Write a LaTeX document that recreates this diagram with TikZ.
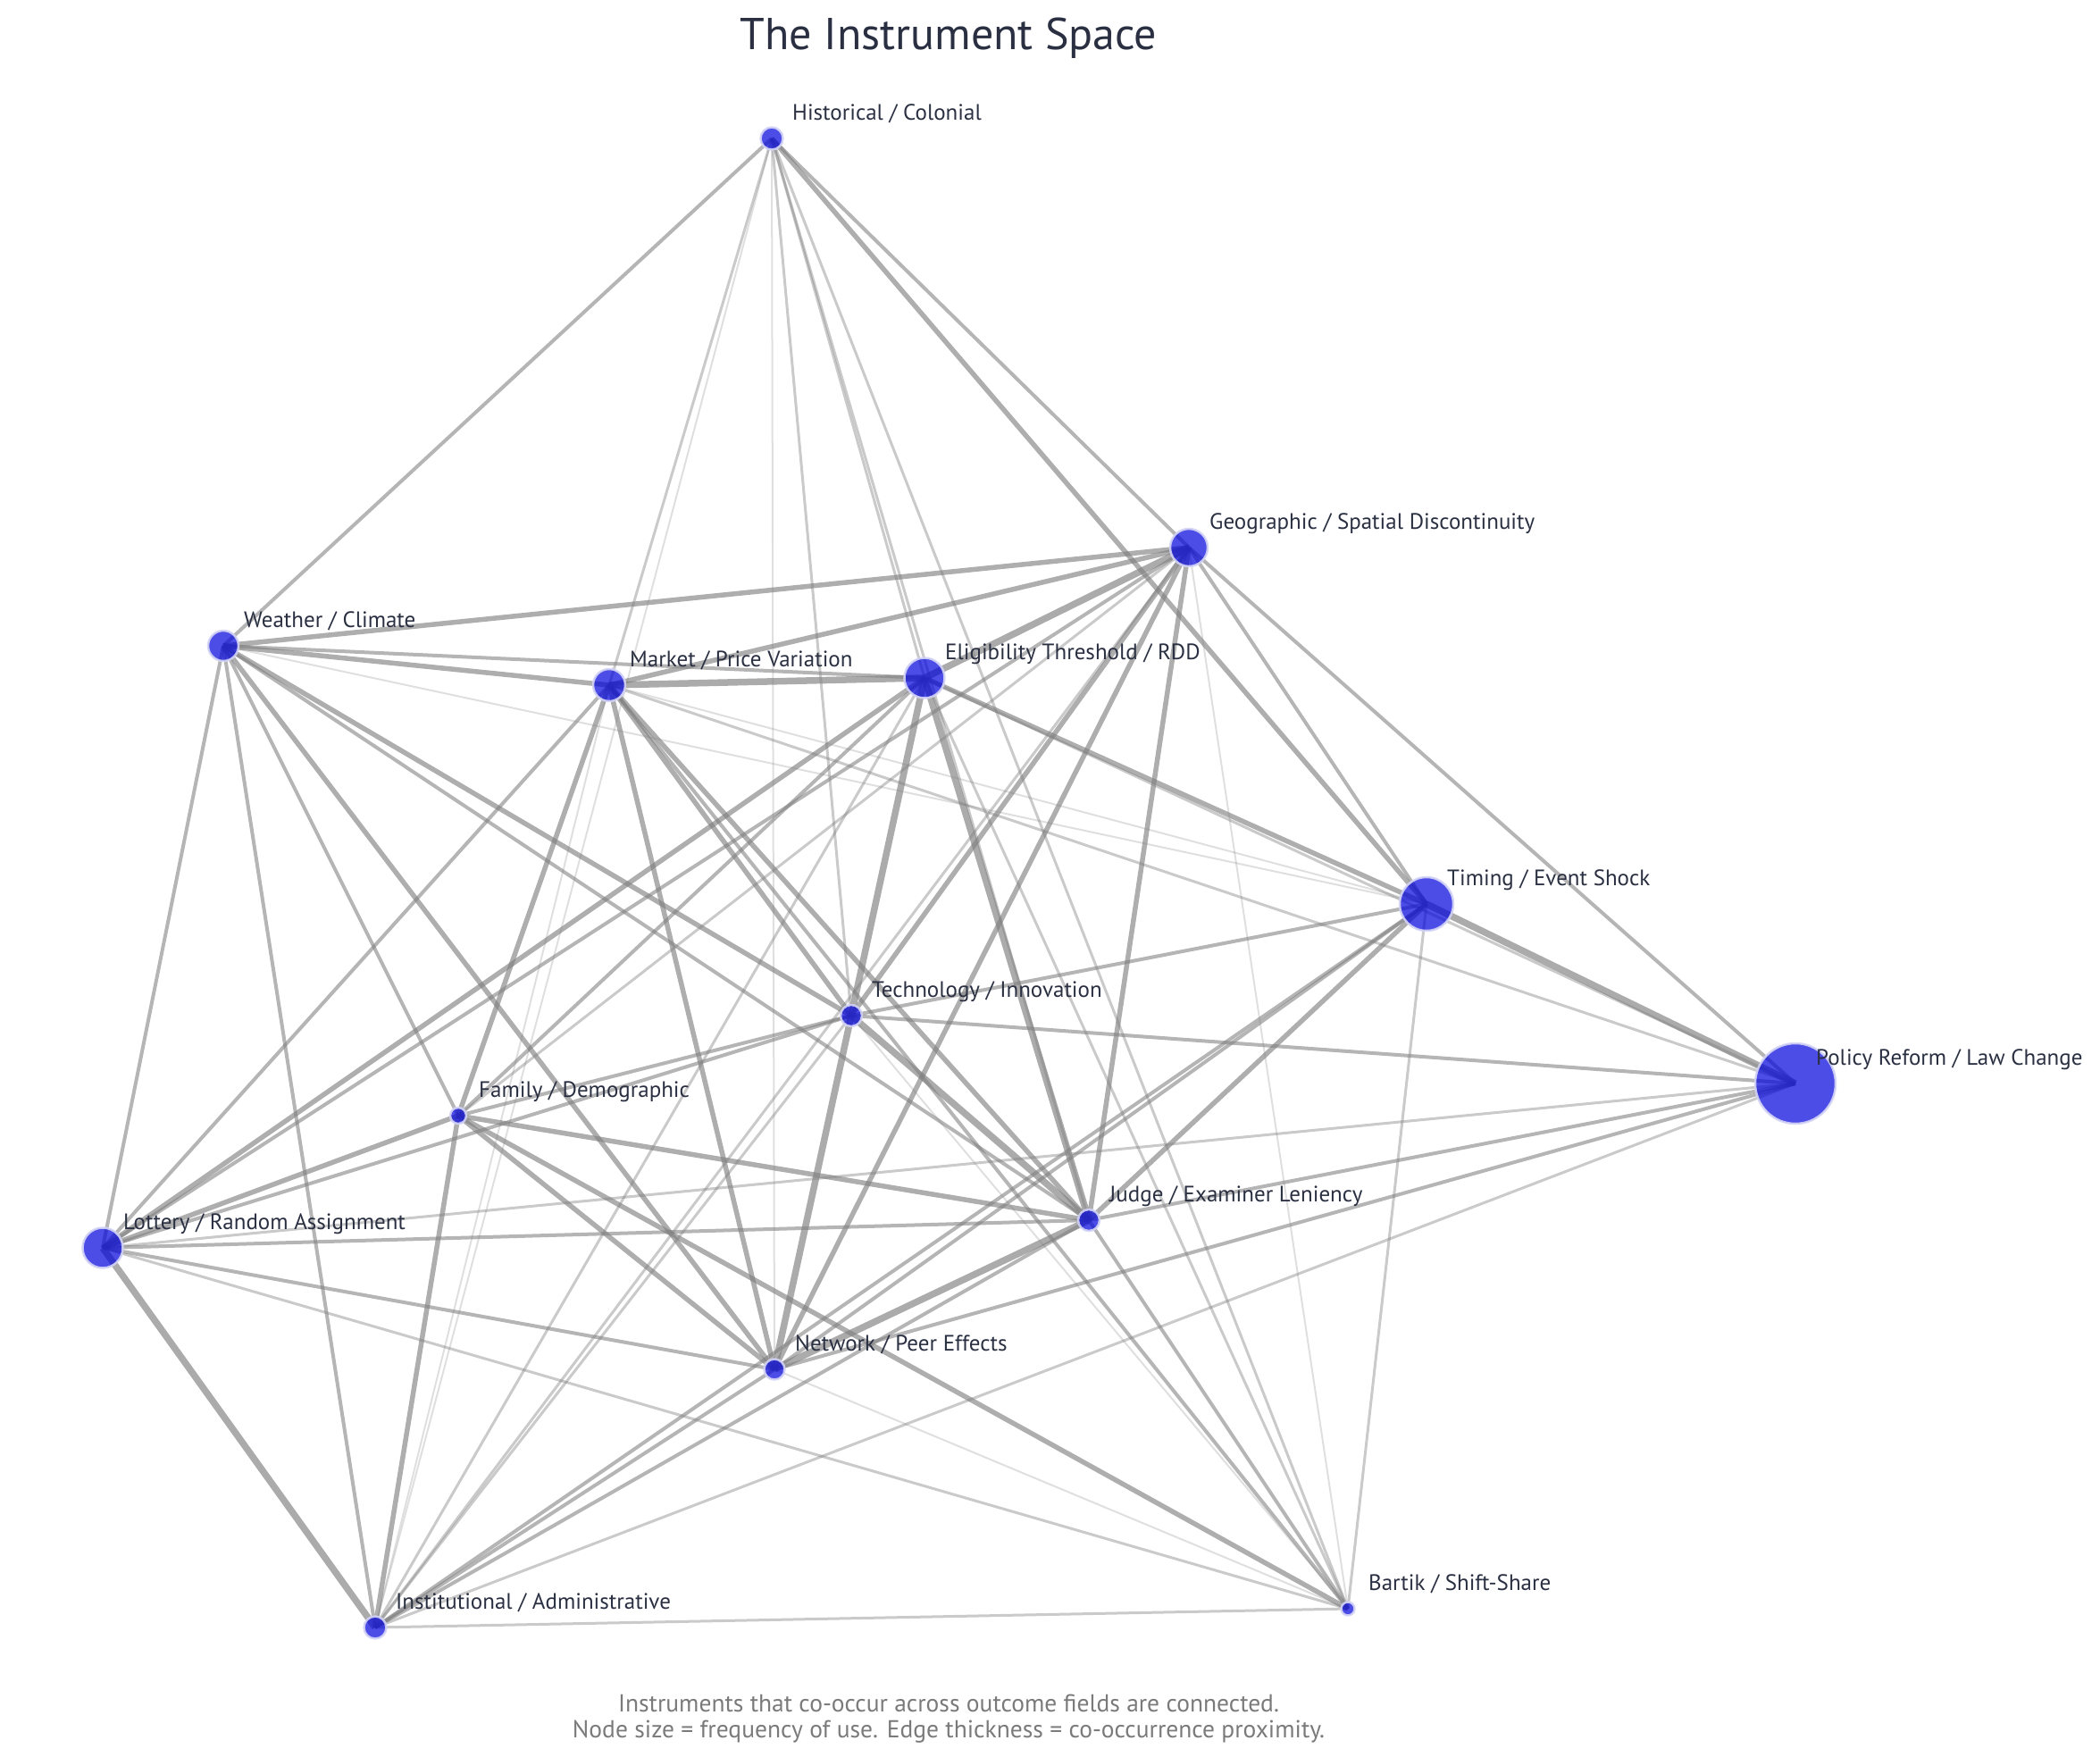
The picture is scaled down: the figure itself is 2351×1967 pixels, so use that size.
\documentclass[tikz,border=0pt]{standalone}
\usepackage{fontspec}
\setmainfont{PT Sans}
\pgfdeclarelayer{edges}
\pgfsetlayers{edges,main}
\definecolor{edgegray}{RGB}{128,128,128}
\definecolor{nodeblue}{RGB}{0,0,220}
\definecolor{ringc}{RGB}{212,212,246}
\definecolor{labc}{RGB}{42,48,66}
\definecolor{footc}{RGB}{122,122,122}
\tikzset{
  dot/.style={circle, inner sep=0pt, fill=nodeblue, fill opacity=0.7, draw=ringc, draw opacity=0.9, line width=2.5pt},
  lbl/.style={anchor=base west, inner sep=0pt, text=labc, font=\fontsize{25}{30}\selectfont, xshift=23pt, yshift=21pt},
  ea/.style={draw=edgegray, draw opacity=0.25, line width=2pt},
  eb/.style={draw=edgegray, draw opacity=0.42, line width=3pt},
  ec/.style={draw=edgegray, draw opacity=0.58, line width=4pt},
  ed/.style={draw=edgegray, draw opacity=0.64, line width=5.5pt},
  ee/.style={draw=edgegray, draw opacity=0.66, line width=7.5pt}
}
\begin{document}
\begin{tikzpicture}[x=1pt, y=-1pt]
\useasboundingbox (0,0) rectangle (2351,1967);
% nodes
\node[dot, minimum size=25pt] (H) at (864,155) {};
\node[dot, minimum size=42pt] (G) at (1331,613) {};
\node[dot, minimum size=34pt] (W) at (250,723) {};
\node[dot, minimum size=36pt] (M) at (682,767) {};
\node[dot, minimum size=45pt] (E) at (1035,759) {};
\node[dot, minimum size=60pt] (T) at (1597,1012) {};
\node[dot, minimum size=24pt] (Te) at (953,1137) {};
\node[dot, minimum size=90pt] (P) at (2010,1213) {};
\node[dot, minimum size=18pt] (F) at (513,1249) {};
\node[dot, minimum size=24pt] (J) at (1219,1366) {};
\node[dot, minimum size=45pt] (L) at (115,1397) {};
\node[dot, minimum size=23pt] (N) at (867,1533) {};
\node[dot, minimum size=25pt] (I) at (420,1822) {};
\node[dot, minimum size=15pt] (B) at (1509,1801) {};
% labels
\node[lbl] (lH) at (H.center) {Historical / Colonial};
\node[lbl] (lG) at (G.center) {Geographic / Spatial Discontinuity};
\node[lbl] (lW) at (W.center) {Weather / Climate};
\node[lbl] (lM) at (M.center) {Market / Price Variation};
\node[lbl] (lE) at (E.center) {Eligibility Threshold / RDD};
\node[lbl] (lT) at (T.center) {Timing / Event Shock};
\node[lbl] (lTe) at (Te.center) {Technology / Innovation};
\node[lbl] (lP) at (P.center) {Policy Reform / Law Change};
\node[lbl] (lF) at (F.center) {Family / Demographic};
\node[lbl] (lJ) at (J.center) {Judge / Examiner Leniency};
\node[lbl] (lL) at (L.center) {Lottery / Random Assignment};
\node[lbl] (lN) at (N.center) {Network / Peer Effects};
\node[lbl] (lI) at (I.center) {Institutional / Administrative};
\node[lbl] (lB) at (B.center) {Bartik / Shift-Share};
% title and footer
\node[anchor=base, inner sep=0pt, text=labc, font=\fontsize{50}{60}\selectfont] (title) at (1062,56) {The Instrument Space};
\node[anchor=base, inner sep=0pt, text=footc, font=\fontsize{27.5}{32}\selectfont] (foot1) at (1062,1916) {Instruments that co-occur across outcome fields are connected.};
\node[anchor=base, inner sep=0pt, text=footc, font=\fontsize{27.5}{32}\selectfont] (foot2) at (1062,1945) {Node size = frequency of use. Edge thickness = co-occurrence proximity.};
% edges
\begin{pgfonlayer}{edges}
\draw[ec] (H.center) -- (W.center);
\draw[eb] (H.center) -- (M.center);
\draw[ea] (H.center) -- (I.center);
\draw[ea] (H.center) -- (N.center);
\draw[eb] (H.center) -- (Te.center);
\draw[eb] (H.center) -- (E.center);
\draw[eb] (H.center) -- (J.center);
\draw[eb] (H.center) -- (B.center);
\draw[ed] (H.center) -- (T.center);
\draw[ec] (H.center) -- (G.center);
\draw[ed] (W.center) -- (G.center);
\draw[ed] (W.center) -- (M.center);
\draw[ec] (W.center) -- (E.center);
\draw[ea] (W.center) -- (T.center);
\draw[ec] (W.center) -- (L.center);
\draw[ec] (W.center) -- (I.center);
\draw[ec] (W.center) -- (F.center);
\draw[ed] (W.center) -- (N.center);
\draw[ed] (W.center) -- (Te.center);
\draw[ec] (W.center) -- (J.center);
\draw[ee] (M.center) -- (E.center);
\draw[ed] (M.center) -- (G.center);
\draw[ec] (M.center) -- (L.center);
\draw[ed] (M.center) -- (F.center);
\draw[ea] (M.center) -- (I.center);
\draw[ed] (M.center) -- (N.center);
\draw[ed] (M.center) -- (Te.center);
\draw[ec] (M.center) -- (B.center);
\draw[ed] (M.center) -- (J.center);
\draw[ea] (M.center) -- (T.center);
\draw[eb] (M.center) -- (P.center);
\draw[ee] (E.center) -- (G.center);
\draw[ed] (E.center) -- (T.center);
\draw[eb] (E.center) -- (P.center);
\draw[ed] (E.center) -- (L.center);
\draw[ec] (E.center) -- (F.center);
\draw[eb] (E.center) -- (I.center);
\draw[ee] (E.center) -- (Te.center);
\draw[ee] (E.center) -- (J.center);
\draw[eb] (E.center) -- (B.center);
\draw[ec] (G.center) -- (L.center);
\draw[eb] (G.center) -- (F.center);
\draw[ed] (G.center) -- (Te.center);
\draw[eb] (G.center) -- (I.center);
\draw[ed] (G.center) -- (N.center);
\draw[ed] (G.center) -- (J.center);
\draw[ea] (G.center) -- (B.center);
\draw[ec] (G.center) -- (T.center);
\draw[ec] (G.center) -- (P.center);
\draw[ee] (T.center) -- (P.center);
\draw[ec] (T.center) -- (Te.center);
\draw[ec] (T.center) -- (I.center);
\draw[ec] (T.center) -- (N.center);
\draw[ed] (T.center) -- (J.center);
\draw[eb] (T.center) -- (B.center);
\draw[ec] (Te.center) -- (P.center);
\draw[ec] (Te.center) -- (F.center);
\draw[ec] (Te.center) -- (L.center);
\draw[ee] (Te.center) -- (J.center);
\draw[ea] (Te.center) -- (B.center);
\draw[eb] (Te.center) -- (I.center);
\draw[ee] (Te.center) -- (N.center);
\draw[eb] (P.center) -- (L.center);
\draw[ec] (P.center) -- (J.center);
\draw[ec] (P.center) -- (N.center);
\draw[eb] (P.center) -- (I.center);
\draw[ed] (F.center) -- (L.center);
\draw[ed] (F.center) -- (J.center);
\draw[ed] (F.center) -- (N.center);
\draw[ed] (F.center) -- (B.center);
\draw[ed] (F.center) -- (I.center);
\draw[ec] (J.center) -- (L.center);
\draw[ee] (J.center) -- (N.center);
\draw[ec] (J.center) -- (I.center);
\draw[ec] (J.center) -- (B.center);
\draw[ec] (L.center) -- (N.center);
\draw[eb] (L.center) -- (B.center);
\draw[ee] (L.center) -- (I.center);
\draw[ea] (N.center) -- (B.center);
\draw[eb] (I.center) -- (B.center);
\draw[ec] (I.center) -- (N.center);
\end{pgfonlayer}
\end{tikzpicture}
\end{document}
